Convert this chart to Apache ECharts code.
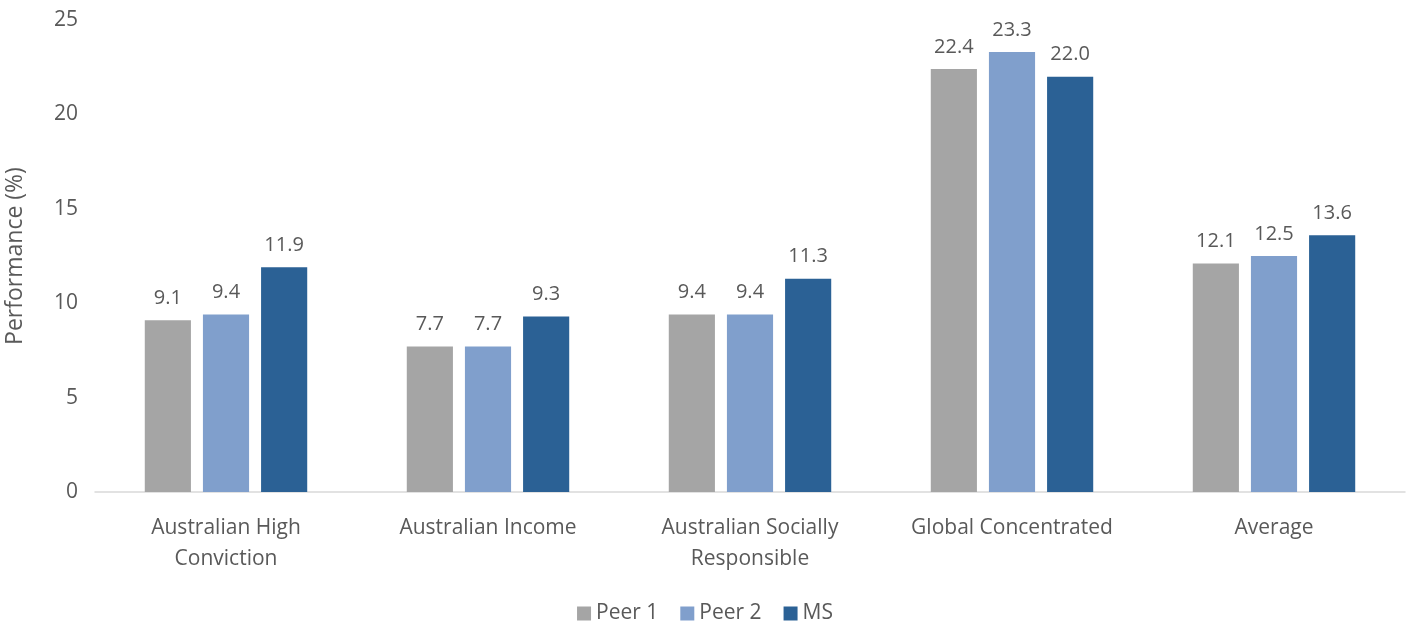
<!DOCTYPE html>
<html><head><meta charset="utf-8">
<script src="https://cdn.jsdelivr.net/npm/echarts@6/dist/echarts.min.js"></script>
<style>html,body{margin:0;padding:0;background:#fff}#c{width:1410px;height:622px}</style>
</head><body><div id="c"></div>
<script>
const categories = ["Australian High\nConviction", "Australian Income", "Australian Socially\nResponsible", "Global Concentrated", "Average"];
const peer1 = [9.1, 7.7, 9.4, 22.4, 12.1];
const peer2 = [9.4, 7.7, 9.4, 23.3, 12.5];
const ms = [11.9, 9.3, 11.3, 22.0, 13.6];
const yTicks = [0, 5, 10, 15, 20, 25];

const font = '"Open Sans", "Liberation Sans", sans-serif';
const txt = '#595959';
const chart = echarts.init(document.getElementById('c'));
function s(name, data, color) {
  return {
    name, type: 'bar', data, barGap: '26%', barCategoryGap: '38%',
    itemStyle: { color },
    label: { show: true, position: 'top', distance: 12, color: txt, fontSize: 20, fontFamily: font,
      formatter: p => p.value.toFixed(1) }
  };
}
chart.setOption({
  animation: false,
  textStyle: { fontFamily: font },
  grid: { left: 95, right: 5, top: 20, bottom: 130, outerBoundsMode: 'none', containLabel: false },
  legend: {
    top: 598, left: 'center', itemWidth: 14, itemHeight: 14, itemGap: 22, icon: 'rect',
    textStyle: { color: txt, fontSize: 21, fontFamily: font }
  },
  xAxis: {
    type: 'category', data: categories,
    axisLine: { lineStyle: { color: '#D9D9D9', width: 1.5 } },
    axisTick: { show: false },
    axisLabel: { color: txt, fontSize: 21, fontFamily: font, margin: 21, lineHeight: 31, interval: 0 }
  },
  yAxis: {
    type: 'value', min: 0, max: 25, interval: 5,
    name: 'Performance (%)', nameLocation: 'middle', nameGap: 68, nameRotate: 90,
    nameTextStyle: { color: txt, fontSize: 23, fontFamily: font },
    splitLine: { show: false }, axisLine: { show: false }, axisTick: { show: false },
    axisLabel: { color: txt, fontSize: 21, fontFamily: font, margin: 17,
      formatter: v => yTicks.includes(v) ? String(v) : '' }
  },
  series: [s('Peer 1', peer1, '#A5A5A5'), s('Peer 2', peer2, '#809FCC'), s('MS', ms, '#2B6195')]
});
</script></body></html>
